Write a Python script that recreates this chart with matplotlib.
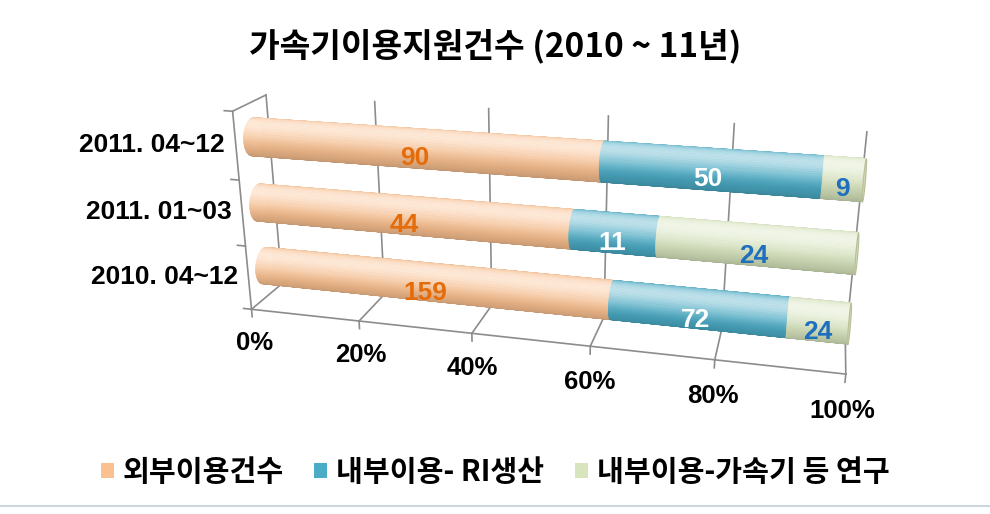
import numpy as np
import matplotlib
matplotlib.use("Agg")
import matplotlib.pyplot as plt
from matplotlib.patches import Patch
from matplotlib.lines import Line2D
from mpl_toolkits.mplot3d.art3d import Poly3DCollection

# categories from bottom to top (as drawn)
categories = ["2010. 04~12", "2011. 01~03", "2011. 04~12"]
series_names = ["외부이용건수", "내부이용- RI생산", "내부이용-가속기 등 연구"]
external = [159, 44, 90]
ri_prod = [72, 11, 50]
accel_res = [24, 24, 9]
pct_ticks = [0, 20, 40, 60, 80, 100]

colors = ["#FAC090", "#4BACC6", "#D7E4BD"]
label_colors = ["#E46C0A", "white", "#1F6FBF"]
grid_col = "#8C8C8C"

KR = ["Noto Sans CJK KR", "DejaVu Sans"]
LAT = ["Liberation Sans", "DejaVu Sans"]

XLEN = 8.5           # physical length of the value axis
DEPTH = 1.0          # physical depth of the box
R = 0.275            # cylinder radius (physical, 1 = category step)
YC = 0.5             # cylinder centre in depth (data units)


def shade(base, t):
    """Colour for a cylinder facet whose normal angle is t (light from top-front)."""
    b = np.array(matplotlib.colors.to_rgb(base))
    inten = -0.55 * np.cos(t) + 0.83 * np.sin(t)
    c = b * (0.86 + 0.15 * inten)
    hi = 0.65 * max(inten, 0) ** 3
    c = c + (1 - c) * hi
    return np.clip(c, 0, 1)


def cylinder(x0, x1, zc, base, nx=8, nt=72):
    ry = R / DEPTH
    ts = np.linspace(0, 2 * np.pi, nt + 1)
    xs = np.linspace(x0, x1, nx + 1)
    quads, cols = [], []
    for a, b in zip(xs[:-1], xs[1:]):
        for t0, t1 in zip(ts[:-1], ts[1:]):
            y0, z0 = YC + ry * np.cos(t0), zc + R * np.sin(t0)
            y1, z1 = YC + ry * np.cos(t1), zc + R * np.sin(t1)
            quads.append([(a, y0, z0), (b, y0, z0), (b, y1, z1), (a, y1, z1)])
            cols.append(shade(base, 0.5 * (t0 + t1)))
    return quads, cols


fig = plt.figure(figsize=(9.9, 5.14), dpi=100)
ax = fig.add_axes([0.039, 0.159, 1.0, 0.78], projection="3d", computed_zorder=False)
ax.set_proj_type("persp", focal_length=0.52)
ax.view_init(elev=20, azim=-76)
ax.set_box_aspect((XLEN, DEPTH, 3), zoom=1.585)
ax.set_xlim(0, 100)
ax.set_ylim(0, 1)
ax.set_zlim(0, 3)
ax.set_axis_off()

# walls / grid
kw = dict(color=grid_col, lw=1.2, zorder=1, clip_on=False)
for p in pct_ticks:
    ax.plot([p, p], [1, 1], [0, 3], **kw)          # back wall gridline
    ax.plot([p, p], [0, 1], [0, 0], **kw)          # floor depth line
    ax.plot([p, p], [0, 0], [0, -0.12], **kw)      # tick below floor
ax.plot([0, 100], [0, 0], [0, 0], **kw)            # floor front edge
ax.plot([0, 0], [0, 0], [0, 3], **kw)              # side wall front edge
ax.plot([0, 0], [0, 1], [3, 3], **kw)              # side wall top edge
for z in range(4):
    ax.plot([0, -1.5], [0, 0], [z, z], **kw)       # category ticks

# bars
segments = list(zip(external, ri_prod, accel_res))
for i, vals in enumerate(segments):
    tot = sum(vals)
    zc = i + 0.5
    cum = np.concatenate([[0], np.cumsum(vals)]) / tot * 100
    quads, cols = [], []
    for k in range(3):
        q, c = cylinder(cum[k], cum[k + 1], zc, colors[k])
        quads += q
        cols += c
    pc = Poly3DCollection(quads, facecolors=cols, edgecolors=cols, linewidths=0.5)
    pc.set_zorder(2)
    pc.set_clip_on(False)
    ax.add_collection3d(pc)
    # right end cap
    ts = np.linspace(0, 2 * np.pi, 60)
    cap = [[(100, YC + R / DEPTH * np.cos(t), zc + R * np.sin(t)) for t in ts]]
    capc = np.array(matplotlib.colors.to_rgb(colors[2])) * 0.96
    cc = Poly3DCollection(cap, facecolors=[capc], edgecolors=["#B8BE98"], linewidths=0.8)
    cc.set_zorder(3)
    cc.set_clip_on(False)
    ax.add_collection3d(cc)
    # value labels
    for k in range(3):
        mid = 0.5 * (cum[k] + cum[k + 1])
        ax.text(mid, YC - R / DEPTH, zc - 0.05, str(vals[k]), color=label_colors[k],
                fontsize=19, fontweight="bold", family=LAT, ha="center", va="center",
                zorder=10)
    ax.text(-2, 0, zc, categories[i], fontsize=19, fontweight="bold", family=LAT,
            ha="right", va="center", zorder=10)

for p in pct_ticks:
    ax.text(p, 0, -0.55, f"{p}%", fontsize=18.5, fontweight="bold", family=LAT,
            ha="center", va="center", zorder=10)

fig.text(0.5, 0.91, "가속기이용지원건수 (2010 ~ 11년)", ha="center", va="center",
         fontsize=24, fontweight="bold", family=KR)

handles = [Patch(facecolor=c, edgecolor="none") for c in colors]
fig.legend(handles, series_names, loc="center", bbox_to_anchor=(0.5, 0.082), ncol=3,
           frameon=False, prop=dict(family=KR, weight="bold", size=21),
           handlelength=0.45, handleheight=0.45, handletextpad=0.3, columnspacing=1.05)

fig.add_artist(Line2D([0, 1], [0.016, 0.016], color="#CBD5DD", lw=1.5,
                      transform=fig.transFigure))

fig.savefig("out.png", dpi=100)
